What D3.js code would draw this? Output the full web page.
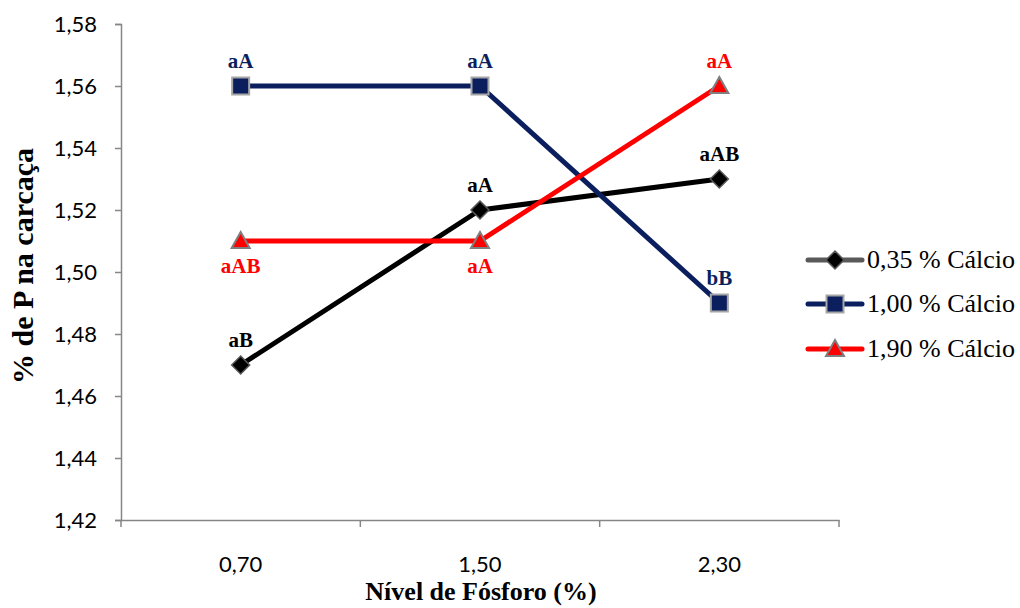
<!DOCTYPE html>
<html>
<head>
<meta charset="utf-8">
<script src="https://cdn.jsdelivr.net/npm/d3@7"></script>
<style>
  html, body { margin: 0; padding: 0; background: #fff; }
  svg { display: block; }
</style>
</head>
<body>
<svg id="chart" width="1020" height="608"></svg>
<script>
// Phosphorus levels (x categories) and tick labels
const levels = ["0,70", "1,50", "2,30"];
const yTicks = [1.42, 1.44, 1.46, 1.48, 1.50, 1.52, 1.54, 1.56, 1.58];

// % P in carcass for each calcium level
const ca035 = [1.47, 1.52, 1.53];
const ca100 = [1.56, 1.56, 1.49];
const ca190 = [1.51, 1.51, 1.56];

// Significance letters per point
const lab035 = ["aB", "aA", "aAB"];
const lab100 = ["aA", "aA", "bB"];
const lab190 = ["aAB", "aA", "aA"];
// Label placement: 1 = above the point, -1 = below
const pos035 = [1, 1, 1];
const pos100 = [1, 1, 1];
const pos190 = [-1, -1, 1];

const seriesNames = ["0,35 % Cálcio", "1,00 % Cálcio", "1,90 % Cálcio"];

const series = [
  { name: seriesNames[0], values: ca035, labels: lab035, pos: pos035, line: "#000000", legendLine: "#595959", fill: "#000000", labelColor: "#000000", marker: "diamond" },
  { name: seriesNames[1], values: ca100, labels: lab100, pos: pos100, line: "#0b1f5e", legendLine: "#0b1f5e", fill: "#0b1f5e", labelColor: "#0b1f5e", marker: "square" },
  { name: seriesNames[2], values: ca190, labels: lab190, pos: pos190, line: "#ff0000", legendLine: "#ff0000", fill: "#ff0000", labelColor: "#ff0000", marker: "triangle" }
];

const svg = d3.select("#chart");
const plot = { left: 121, right: 839, top: 24, bottom: 520 };

const x = d3.scaleBand().domain(levels).range([plot.left, plot.right]).padding(0);
const y = d3.scaleLinear().domain([1.42, 1.58]).range([plot.bottom, plot.top]);
const cx = d => x(d) + x.bandwidth() / 2;

const axisColor = "#868686";
const tickFont = "Lato, 'Open Sans', sans-serif";
const serif = "Liberation Serif";

// Y axis
const yAxis = svg.append("g")
  .attr("transform", `translate(${plot.left},0)`)
  .call(d3.axisLeft(y).tickValues(yTicks).tickSize(6).tickPadding(18)
    .tickFormat(d => d3.format(".2f")(d).replace(".", ",")));
yAxis.select(".domain").attr("stroke", axisColor).attr("stroke-width", 1.5);
yAxis.selectAll(".tick line").attr("stroke", axisColor).attr("stroke-width", 1.5);
yAxis.selectAll(".tick text").attr("fill", "#000").attr("font-family", tickFont).attr("font-size", 22);

// X axis with tick marks at category boundaries
const xAxis = svg.append("g")
  .attr("transform", `translate(0,${plot.bottom})`)
  .call(d3.axisBottom(x).tickSize(0).tickPadding(36));
xAxis.select(".domain").attr("stroke", axisColor).attr("stroke-width", 1.5);
xAxis.selectAll(".tick text").attr("fill", "#000").attr("font-family", tickFont).attr("font-size", 22);
const bounds = levels.map(d => x(d)).concat([x(levels[levels.length - 1]) + x.bandwidth()]);
xAxis.selectAll("line.bound").data(bounds).enter().append("line")
  .attr("class", "bound")
  .attr("x1", d => d).attr("x2", d => d)
  .attr("y1", 0).attr("y2", 7)
  .attr("stroke", axisColor).attr("stroke-width", 1.5);

// Axis titles
svg.append("text")
  .attr("x", (plot.left + plot.right) / 2 + 1).attr("y", 600)
  .attr("text-anchor", "middle")
  .attr("font-family", serif).attr("font-weight", "bold").attr("font-size", 26)
  .text("Nível de Fósforo (%)");
svg.append("text")
  .attr("transform", `translate(33,${(plot.top + plot.bottom) / 2 - 6}) rotate(-90)`)
  .attr("text-anchor", "middle")
  .attr("font-family", serif).attr("font-weight", "bold").attr("font-size", 30)
  .text("% de P na carcaça");

// Marker drawing helper
function drawMarker(g, type, fill) {
  if (type === "diamond") {
    g.append("path").attr("d", "M0,-9L9,0L0,9L-9,0Z").attr("fill", fill).attr("stroke", "#595959").attr("stroke-width", 1.5);
  } else if (type === "square") {
    g.append("rect").attr("x", -8.5).attr("y", -8.5).attr("width", 17).attr("height", 17)
      .attr("fill", fill).attr("stroke", "#a6a6a6").attr("stroke-width", 2);
  } else {
    g.append("path").attr("d", "M0,-9L9,7L-9,7Z").attr("fill", fill).attr("stroke", "#7f7f7f").attr("stroke-width", 2);
  }
}

const line = d3.line().x((d, i) => cx(levels[i])).y(d => y(d));

series.forEach(s => {
  svg.append("path").datum(s.values)
    .attr("d", line).attr("fill", "none")
    .attr("stroke", s.line).attr("stroke-width", 5).attr("stroke-linejoin", "round");
});

series.forEach(s => {
  s.values.forEach((v, i) => {
    const g = svg.append("g").attr("transform", `translate(${cx(levels[i])},${y(v)})`);
    drawMarker(g, s.marker, s.fill);
    svg.append("text")
      .attr("x", cx(levels[i]))
      .attr("y", y(v) + (s.pos[i] > 0 ? -18 : 32))
      .attr("text-anchor", "middle")
      .attr("fill", s.labelColor)
      .attr("font-family", serif).attr("font-weight", "bold").attr("font-size", 21)
      .text(s.labels[i]);
  });
});

// Legend
const legendY = [260, 304, 349];
series.forEach((s, i) => {
  const g = svg.append("g").attr("transform", `translate(808,${legendY[i]})`);
  g.append("line").attr("x1", 0).attr("x2", 54).attr("y1", 0).attr("y2", 0)
    .attr("stroke", s.legendLine).attr("stroke-width", 5).attr("stroke-linecap", "round");
  const m = g.append("g").attr("transform", "translate(27,0)");
  drawMarker(m, s.marker, s.fill);
  g.append("text").attr("x", 59).attr("y", 8)
    .attr("font-family", serif).attr("font-size", 26).attr("fill", "#000")
    .text(s.name);
});
</script>
</body>
</html>
